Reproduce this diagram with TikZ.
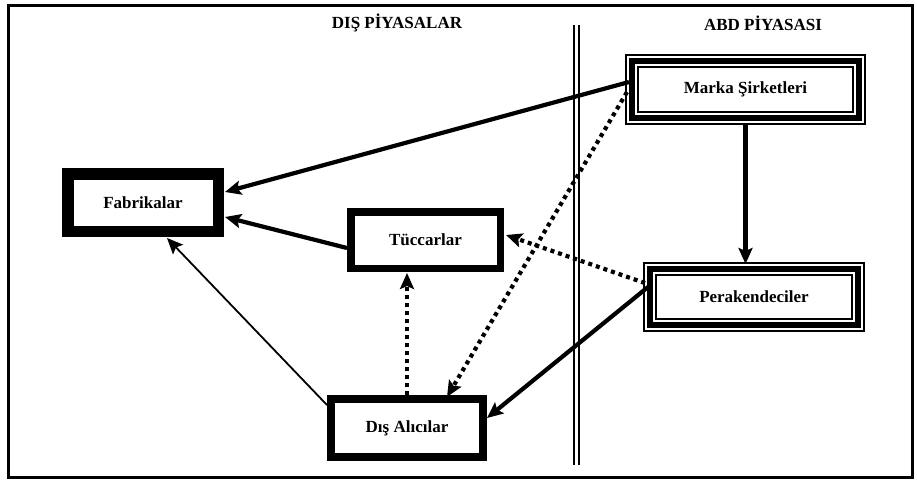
\documentclass[tikz,border=0pt]{standalone}
\usepackage{fontspec}
\setmainfont{Liberation Serif}
\usetikzlibrary{arrows.meta,calc}

\tikzset{
  lbl/.style={font=\bfseries\fontsize{17}{20}\selectfont, inner sep=0pt},
  heavybox/.style={lbl, draw, line width=#1},
  triplebox/.style={lbl, line width=6pt, draw,
    preaction={draw, line width=1.8pt, double, double distance=10pt},
    outer sep=6.8pt},
  tip/.style={-{Stealth[length=16pt,width=14pt,inset=3pt]}},
  solidarrow/.style={tip, line width=4.2pt},
  thinarrow/.style={tip, line width=1.8pt},
  dotarrow/.style={tip, line width=4.2pt, dash pattern=on 4pt off 4pt},
}

\begin{document}
\begin{tikzpicture}[x=1pt,y=-1pt]
\useasboundingbox (0,0) rectangle (917,483);

% frame
\draw[line width=3pt] (8.5,5) rectangle (912,477);

% market divider
\draw[line width=2pt, double, double distance=3.2pt] (576.5,25) -- (576.5,465);

% headings
\node[lbl] (t1) at (397,23) {DIŞ PİYASALAR};
\node[lbl] (t2) at (763,23) {ABD PİYASASI};

% boxes
\node[heavybox=11.5pt, minimum width=150.5pt, minimum height=57.5pt] (fab) at (143,202.5) {Fabrikalar};
\node[heavybox=7.5pt, minimum width=149.5pt, minimum height=56.5pt] (tc) at (425.5,240) {Tüccarlar};
\node[heavybox=8pt, minimum width=152pt, minimum height=58pt] (da) at (407,428) {Dış Alıcılar};
\node[triplebox, minimum width=227.4pt, minimum height=57.4pt] (mk) at (745.5,89.5) {Marka Şirketleri};
\node[triplebox, minimum width=208.4pt, minimum height=56.4pt] (pk) at (754,297) {Perakendeciler};

% flows
\draw[solidarrow] ($(mk.west)+(4,-7.5)$) -- ($(fab.east)+(1,-10.5)$);
\draw[solidarrow] ($(tc.west)+(0,8)$) -- ($(fab.east)+(1,14.5)$);
\draw[thinarrow] ($(da.north west)+(0,10)$) -- ($(fab.south)+(24,1)$);
\draw[dotarrow] (da.north) -- ($(tc.south)+(-18.5,1)$);
\draw[dotarrow] ($(mk.west)+(2,2.5)$) -- ($(da.north)+(40,2)$);
\draw[dotarrow] ($(pk.west)+(2,-14)$) -- ($(tc.east)+(2,-5)$);
\draw[solidarrow] ($(pk.west)+(5,-10)$) -- ($(da.east)+(0,-10)$);
\draw[solidarrow, line width=5pt] (mk.south) -- ($(mk.south |- pk.north)+(0,2)$);
\end{tikzpicture}
\end{document}
